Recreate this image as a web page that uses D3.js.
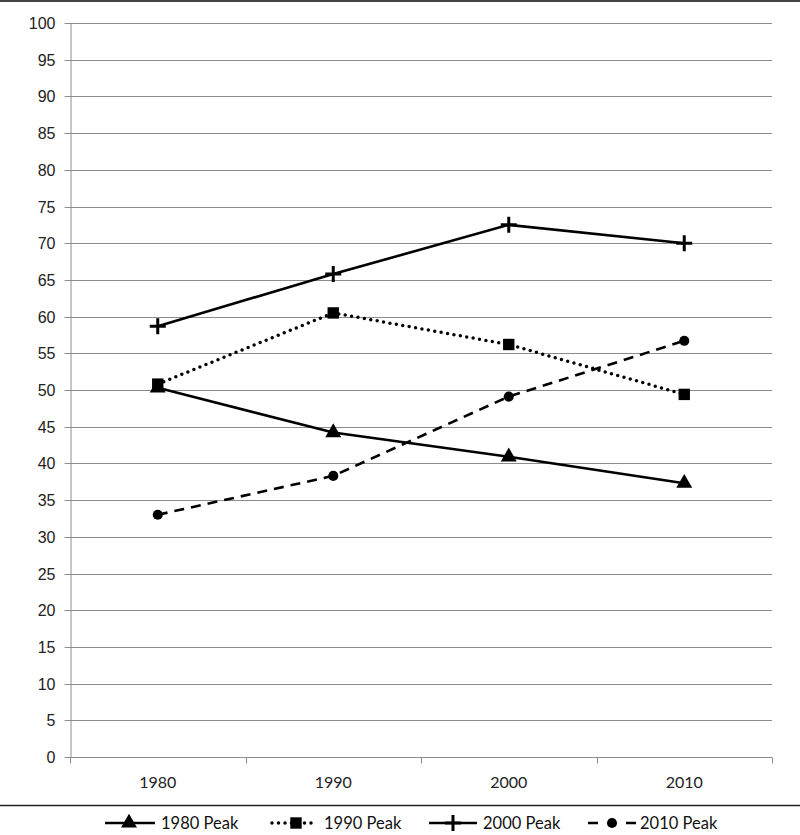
<!DOCTYPE html>
<html>
<head>
<meta charset="utf-8">
<script src="https://cdn.jsdelivr.net/npm/d3@7"></script>
<style>
  body { margin: 0; background: #fff; }
  svg { display: block; font-family: Lato, "Open Sans", sans-serif; }
  .grid line { stroke: #8c8c8c; stroke-width: 1; }
  .axis path, .axis line { stroke: #8c8c8c; }
  .axis text { font-size: 16px; fill: #222; }
</style>
</head>
<body>
<div class="chart"></div>
<script>
const years = ["1980", "1990", "2000", "2010"]
const yTicks = d3.range(0, 101, 5)

const peak1980 = [50.3, 44.2, 40.9, 37.3]
const peak1990 = [50.8, 60.5, 56.2, 49.4]
const peak2000 = [58.7, 65.8, 72.5, 70.0]
const peak2010 = [33.0, 38.3, 49.1, 56.7]

const seriesNames = ["1980 Peak", "1990 Peak", "2000 Peak", "2010 Peak"]

const series = [
    { name: seriesNames[0], values: peak1980, dash: null, symbol: d3.symbolTriangle, size: 110 },
    { name: seriesNames[1], values: peak1990, dash: "dot", symbol: d3.symbolSquare, size: 130 },
    { name: seriesNames[2], values: peak2000, dash: null, symbol: "plus", size: 0 },
    { name: seriesNames[3], values: peak2010, dash: "10,7", symbol: d3.symbolCircle, size: 80 },
]

const dimensions = {
    width: 800,
    height: 835,
    margin: { top: 23, right: 28, bottom: 78, left: 70 },
}
dimensions.boundedWidth = dimensions.width - dimensions.margin.left - dimensions.margin.right
dimensions.boundedHeight = dimensions.height - dimensions.margin.top - dimensions.margin.bottom

const wrapper = d3.select(".chart")
    .append("svg")
    .attr("width", dimensions.width)
    .attr("height", dimensions.height)

// frame lines top and above legend
wrapper.append("line")
    .attr("x1", 0).attr("x2", dimensions.width)
    .attr("y1", 1).attr("y2", 1)
    .attr("stroke", "#444").attr("stroke-width", 2)
wrapper.append("line")
    .attr("x1", 0).attr("x2", dimensions.width)
    .attr("y1", 805.5).attr("y2", 805.5)
    .attr("stroke", "#222").attr("stroke-width", 1.5)

const bounds = wrapper.append("g")
    .attr("transform", `translate(${dimensions.margin.left},${dimensions.margin.top})`)

const xScale = d3.scaleBand()
    .domain(years)
    .range([0, dimensions.boundedWidth])

const yScale = d3.scaleLinear()
    .domain([0, 100])
    .range([dimensions.boundedHeight, 0])

// gridlines
bounds.append("g")
    .attr("class", "grid")
    .selectAll("line")
    .data(yTicks.filter(d => d > 0))
    .join("line")
    .attr("x1", 0)
    .attr("x2", dimensions.boundedWidth)
    .attr("y1", d => Math.round(yScale(d)) + 0.5)
    .attr("y2", d => Math.round(yScale(d)) + 0.5)

// y axis
const yAxis = bounds.append("g")
    .attr("class", "axis")
    .attr("transform", "translate(0.5,0)")
    .call(d3.axisLeft(yScale).tickValues(yTicks).tickSize(6).tickSizeOuter(0).tickPadding(9))
yAxis.selectAll(".tick").attr("transform", d => `translate(0,${Math.round(yScale(d)) + 0.5})`)

// x axis with ticks on band boundaries
const xAxis = bounds.append("g")
    .attr("class", "axis")
    .attr("transform", `translate(0,${dimensions.boundedHeight + 0.5})`)
xAxis.append("line")
    .attr("x1", 0).attr("x2", dimensions.boundedWidth)
    .attr("stroke", "#8c8c8c")
xAxis.selectAll(".xtick")
    .data([0, ...years.map(y => xScale(y) + xScale.bandwidth())])
    .join("line")
    .attr("x1", d => Math.round(d) + 0.5)
    .attr("x2", d => Math.round(d) + 0.5)
    .attr("y1", 0).attr("y2", 6)
    .attr("stroke", "#8c8c8c")
xAxis.selectAll("text")
    .data(years)
    .join("text")
    .attr("x", d => xScale(d) + xScale.bandwidth() / 2)
    .attr("y", 30)
    .attr("text-anchor", "middle")
    .text(d => d)

const xCenter = d => xScale(d) + xScale.bandwidth() / 2

const lineGen = d3.line()
    .x((d, i) => xCenter(years[i]))
    .y(d => yScale(d))

function drawMarker(sel, s) {
    if (s.symbol === "plus") {
        sel.append("path")
            .attr("d", "M-8,0H8M0,-8V8")
            .attr("stroke", "#000")
            .attr("stroke-width", 3)
            .attr("fill", "none")
    } else {
        sel.append("path")
            .attr("d", d3.symbol(s.symbol, s.size)())
            .attr("fill", "#000")
    }
}

function styleLine(sel, s, legendDash) {
    sel.attr("fill", "none")
        .attr("stroke", "#000")
        .attr("stroke-width", s.dash === "dot" ? 3.5 : 2.6)
        .attr("stroke-linecap", s.dash === "dot" ? "round" : "butt")
        .attr("stroke-dasharray", s.dash === "dot" ? "0,6.5" : (legendDash || s.dash))
}

series.forEach(s => {
    bounds.append("path")
        .datum(s.values)
        .attr("d", lineGen)
        .call(styleLine, s)

    s.values.forEach((v, i) => {
        const g = bounds.append("g")
            .attr("transform", `translate(${xCenter(years[i])},${yScale(v)})`)
        drawMarker(g, s)
    })
})

// legend
const legendX = [105, 272, 429, 588]
const legendLen = [50, 43, 48, 48]
const legendTextX = [56, 52, 54, 52]
const legendY = 823
const legend = wrapper.append("g")
series.forEach((s, i) => {
    const g = legend.append("g").attr("transform", `translate(${legendX[i]},${legendY})`)
    g.append("line")
        .attr("x1", 0).attr("x2", legendLen[i])
        .call(styleLine, s, s.dash === "10,7" ? "10,28" : null)
    const m = g.append("g").attr("transform", "translate(24,0)")
    drawMarker(m, s)
    g.append("text")
        .attr("x", legendTextX[i])
        .attr("y", 6)
        .attr("font-size", 16.5)
        .attr("fill", "#111")
        .text(s.name)
})
</script>
</body>
</html>
